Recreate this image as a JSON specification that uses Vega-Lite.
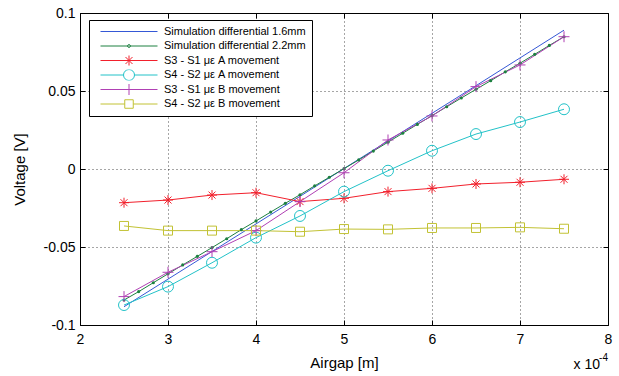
{
  "$schema": "https://vega.github.io/schema/vega-lite/v6.json",
  "width": 528,
  "height": 312,
  "autosize": "none",
  "padding": {"left": 80, "top": 13, "right": 11, "bottom": 51},
  "background": "white",
  "config": {
    "font": "Liberation Sans",
    "view": {"stroke": "black", "strokeWidth": 1},
    "axis": {
      "labelFont": "Liberation Sans",
      "titleFont": "Liberation Sans",
      "labelFontSize": 14,
      "titleFontSize": 15,
      "titleFontWeight": "normal",
      "labelColor": "black",
      "titleColor": "black",
      "tickColor": "black",
      "domain": false,
      "gridColor": "black",
      "gridDash": [1, 3],
      "gridOpacity": 0.7,
      "gridWidth": 1
    },
    "legend": {
      "orient": "none", "legendX": 9, "legendY": 7,
      "padding": 6, "strokeColor": "black", "fillColor": "white",
      "symbolSize": 100, "symbolStrokeWidth": 1, "symbolOpacity": 1,
      "labelFont": "Liberation Sans", "labelFontSize": 11, "labelColor": "black",
      "labelOffset": 58, "rowPadding": 2.5, "labelLimit": 300, "clipHeight": 11
    }
  },
  "data": {
    "values": [
      {"series": "Simulation differential 1.6mm", "airgap": 0.00025, "voltage": -0.0883},
      {"series": "Simulation differential 1.6mm", "airgap": 0.0003, "voltage": -0.0706},
      {"series": "Simulation differential 1.6mm", "airgap": 0.00035, "voltage": -0.0529},
      {"series": "Simulation differential 1.6mm", "airgap": 0.0004, "voltage": -0.0352},
      {"series": "Simulation differential 1.6mm", "airgap": 0.00045, "voltage": -0.0175},
      {"series": "Simulation differential 1.6mm", "airgap": 0.0005, "voltage": 0.0003},
      {"series": "Simulation differential 1.6mm", "airgap": 0.00055, "voltage": 0.018},
      {"series": "Simulation differential 1.6mm", "airgap": 0.0006, "voltage": 0.0357},
      {"series": "Simulation differential 1.6mm", "airgap": 0.00065, "voltage": 0.0534},
      {"series": "Simulation differential 1.6mm", "airgap": 0.0007, "voltage": 0.0712},
      {"series": "Simulation differential 1.6mm", "airgap": 0.00075, "voltage": 0.089},

      {"series": "Simulation differential 2.2mm", "airgap": 0.00025, "voltage": -0.084},
      {"series": "Simulation differential 2.2mm", "airgap": 0.0002667, "voltage": -0.0786},
      {"series": "Simulation differential 2.2mm", "airgap": 0.0002833, "voltage": -0.0729},
      {"series": "Simulation differential 2.2mm", "airgap": 0.0003, "voltage": -0.0672},
      {"series": "Simulation differential 2.2mm", "airgap": 0.0003167, "voltage": -0.0615},
      {"series": "Simulation differential 2.2mm", "airgap": 0.0003333, "voltage": -0.056},
      {"series": "Simulation differential 2.2mm", "airgap": 0.00035, "voltage": -0.0504},
      {"series": "Simulation differential 2.2mm", "airgap": 0.0003667, "voltage": -0.0447},
      {"series": "Simulation differential 2.2mm", "airgap": 0.0003833, "voltage": -0.0389},
      {"series": "Simulation differential 2.2mm", "airgap": 0.0004, "voltage": -0.0333},
      {"series": "Simulation differential 2.2mm", "airgap": 0.0004167, "voltage": -0.0276},
      {"series": "Simulation differential 2.2mm", "airgap": 0.0004333, "voltage": -0.022},
      {"series": "Simulation differential 2.2mm", "airgap": 0.00045, "voltage": -0.0165},
      {"series": "Simulation differential 2.2mm", "airgap": 0.0004667, "voltage": -0.0108},
      {"series": "Simulation differential 2.2mm", "airgap": 0.0004833, "voltage": -0.0053},
      {"series": "Simulation differential 2.2mm", "airgap": 0.0005, "voltage": 0.0002},
      {"series": "Simulation differential 2.2mm", "airgap": 0.0005167, "voltage": 0.0058},
      {"series": "Simulation differential 2.2mm", "airgap": 0.0005333, "voltage": 0.0115},
      {"series": "Simulation differential 2.2mm", "airgap": 0.00055, "voltage": 0.0172},
      {"series": "Simulation differential 2.2mm", "airgap": 0.0005667, "voltage": 0.0229},
      {"series": "Simulation differential 2.2mm", "airgap": 0.0005833, "voltage": 0.0286},
      {"series": "Simulation differential 2.2mm", "airgap": 0.0006, "voltage": 0.0342},
      {"series": "Simulation differential 2.2mm", "airgap": 0.0006167, "voltage": 0.0399},
      {"series": "Simulation differential 2.2mm", "airgap": 0.0006333, "voltage": 0.0455},
      {"series": "Simulation differential 2.2mm", "airgap": 0.00065, "voltage": 0.0511},
      {"series": "Simulation differential 2.2mm", "airgap": 0.0006667, "voltage": 0.0566},
      {"series": "Simulation differential 2.2mm", "airgap": 0.0006833, "voltage": 0.0623},
      {"series": "Simulation differential 2.2mm", "airgap": 0.0007, "voltage": 0.0678},
      {"series": "Simulation differential 2.2mm", "airgap": 0.0007167, "voltage": 0.0735},
      {"series": "Simulation differential 2.2mm", "airgap": 0.0007333, "voltage": 0.0792},
      {"series": "Simulation differential 2.2mm", "airgap": 0.00075, "voltage": 0.0848},

      {"series": "S3 - S1 με A movement", "airgap": 0.00025, "voltage": -0.0216},
      {"series": "S3 - S1 με A movement", "airgap": 0.0003, "voltage": -0.0199},
      {"series": "S3 - S1 με A movement", "airgap": 0.00035, "voltage": -0.0167},
      {"series": "S3 - S1 με A movement", "airgap": 0.0004, "voltage": -0.0152},
      {"series": "S3 - S1 με A movement", "airgap": 0.00045, "voltage": -0.0209},
      {"series": "S3 - S1 με A movement", "airgap": 0.0005, "voltage": -0.0188},
      {"series": "S3 - S1 με A movement", "airgap": 0.00055, "voltage": -0.0145},
      {"series": "S3 - S1 με A movement", "airgap": 0.0006, "voltage": -0.0124},
      {"series": "S3 - S1 με A movement", "airgap": 0.00065, "voltage": -0.0096},
      {"series": "S3 - S1 με A movement", "airgap": 0.0007, "voltage": -0.0085},
      {"series": "S3 - S1 με A movement", "airgap": 0.00075, "voltage": -0.0066},

      {"series": "S4 - S2 με A movement", "airgap": 0.00025, "voltage": -0.0872},
      {"series": "S4 - S2 με A movement", "airgap": 0.0003, "voltage": -0.0754},
      {"series": "S4 - S2 με A movement", "airgap": 0.00035, "voltage": -0.0601},
      {"series": "S4 - S2 με A movement", "airgap": 0.0004, "voltage": -0.044},
      {"series": "S4 - S2 με A movement", "airgap": 0.00045, "voltage": -0.0301},
      {"series": "S4 - S2 με A movement", "airgap": 0.0005, "voltage": -0.0145},
      {"series": "S4 - S2 με A movement", "airgap": 0.00055, "voltage": -0.0011},
      {"series": "S4 - S2 με A movement", "airgap": 0.0006, "voltage": 0.0117},
      {"series": "S4 - S2 με A movement", "airgap": 0.00065, "voltage": 0.0224},
      {"series": "S4 - S2 με A movement", "airgap": 0.0007, "voltage": 0.0301},
      {"series": "S4 - S2 με A movement", "airgap": 0.00075, "voltage": 0.0383},

      {"series": "S3 - S1 με B movement", "airgap": 0.00025, "voltage": -0.0818},
      {"series": "S3 - S1 με B movement", "airgap": 0.0003, "voltage": -0.0662},
      {"series": "S3 - S1 με B movement", "airgap": 0.00035, "voltage": -0.053},
      {"series": "S3 - S1 με B movement", "airgap": 0.0004, "voltage": -0.0395},
      {"series": "S3 - S1 με B movement", "airgap": 0.00045, "voltage": -0.0209},
      {"series": "S3 - S1 με B movement", "airgap": 0.0005, "voltage": -0.0024},
      {"series": "S3 - S1 με B movement", "airgap": 0.00055, "voltage": 0.0186},
      {"series": "S3 - S1 με B movement", "airgap": 0.0006, "voltage": 0.034},
      {"series": "S3 - S1 με B movement", "airgap": 0.00065, "voltage": 0.0528},
      {"series": "S3 - S1 με B movement", "airgap": 0.0007, "voltage": 0.0667},
      {"series": "S3 - S1 με B movement", "airgap": 0.00075, "voltage": 0.0848},

      {"series": "S4 - S2 με B movement", "airgap": 0.00025, "voltage": -0.0365},
      {"series": "S4 - S2 με B movement", "airgap": 0.0003, "voltage": -0.0395},
      {"series": "S4 - S2 με B movement", "airgap": 0.00035, "voltage": -0.0395},
      {"series": "S4 - S2 με B movement", "airgap": 0.0004, "voltage": -0.0395},
      {"series": "S4 - S2 με B movement", "airgap": 0.00045, "voltage": -0.0402},
      {"series": "S4 - S2 με B movement", "airgap": 0.0005, "voltage": -0.0385},
      {"series": "S4 - S2 με B movement", "airgap": 0.00055, "voltage": -0.0387},
      {"series": "S4 - S2 με B movement", "airgap": 0.0006, "voltage": -0.0378},
      {"series": "S4 - S2 με B movement", "airgap": 0.00065, "voltage": -0.0378},
      {"series": "S4 - S2 με B movement", "airgap": 0.0007, "voltage": -0.0374},
      {"series": "S4 - S2 με B movement", "airgap": 0.00075, "voltage": -0.0383}
    ]
  },
  "resolve": {"axis": {"x": "independent", "y": "independent"}},
  "layer": [
    {
      "mark": {"type": "line", "strokeWidth": 1},
      "encoding": {
        "x": {
          "field": "airgap", "type": "quantitative",
          "scale": {"domain": [0.0002, 0.0008], "nice": false, "zero": false},
          "axis": {
            "title": "Airgap [m]",
            "values": [0.0002, 0.0003, 0.0004, 0.0005, 0.0006, 0.0007, 0.0008],
            "labelExpr": "format(datum.value * 10000, 'd')",
            "grid": true, "tickSize": -5, "labelPadding": 12, "titlePadding": 9,
            "labelFlush": false, "labelOverlap": false
          }
        },
        "y": {
          "field": "voltage", "type": "quantitative",
          "scale": {"domain": [-0.1, 0.1], "nice": false, "zero": false},
          "axis": {
            "title": "Voltage [V]",
            "values": [-0.1, -0.05, 0, 0.05, 0.1],
            "labelExpr": "replace(format(datum.value, '.2~f'), '\u2212', '-')",
            "grid": true, "tickSize": -5, "labelPadding": 10, "titlePadding": 16,
            "labelFlush": false, "labelOverlap": false
          }
        },
        "stroke": {
          "field": "series", "type": "nominal", "legend": null,
          "scale": {
            "domain": ["S4 - S2 με B movement", "S3 - S1 με B movement", "S4 - S2 με A movement", "S3 - S1 με A movement", "Simulation differential 2.2mm", "Simulation differential 1.6mm"],
            "range": ["#c2c234", "#b040b4", "#22c2c8", "#f2202c", "#1c8040", "#3558d6"]
          }
        }
      }
    },
    {
      "transform": [{"filter": "datum.series == 'Simulation differential 2.2mm'"}],
      "mark": {"type": "point", "shape": "circle", "filled": true, "size": 10, "opacity": 1, "color": "#1c8040"},
      "encoding": {
        "x": {"field": "airgap", "type": "quantitative", "axis": null},
        "y": {"field": "voltage", "type": "quantitative", "axis": null}
      }
    },
    {
      "transform": [{"filter": "datum.series == 'S3 - S1 με A movement'"}],
      "mark": {"type": "point", "shape": "M0,-1V1M-1,0H1M-0.7,-0.7L0.7,0.7M-0.7,0.7L0.7,-0.7", "filled": false, "size": 100, "opacity": 1, "strokeWidth": 1, "color": "#f2202c"},
      "encoding": {
        "x": {"field": "airgap", "type": "quantitative", "axis": null},
        "y": {"field": "voltage", "type": "quantitative", "axis": null}
      }
    },
    {
      "transform": [{"filter": "datum.series == 'S4 - S2 με A movement'"}],
      "mark": {"type": "point", "shape": "circle", "filled": false, "size": 120, "opacity": 1, "strokeWidth": 1, "color": "#22c2c8"},
      "encoding": {
        "x": {"field": "airgap", "type": "quantitative", "axis": null},
        "y": {"field": "voltage", "type": "quantitative", "axis": null}
      }
    },
    {
      "transform": [{"filter": "datum.series == 'S3 - S1 με B movement'"}],
      "mark": {"type": "point", "shape": "M0,-1V1M-1,0H1", "filled": false, "size": 121, "opacity": 1, "strokeWidth": 1, "color": "#b040b4"},
      "encoding": {
        "x": {"field": "airgap", "type": "quantitative", "axis": null},
        "y": {"field": "voltage", "type": "quantitative", "axis": null}
      }
    },
    {
      "transform": [{"filter": "datum.series == 'S4 - S2 με B movement'"}],
      "mark": {"type": "point", "shape": "square", "filled": false, "size": 81, "opacity": 1, "strokeWidth": 1, "color": "#c2c234"},
      "encoding": {
        "x": {"field": "airgap", "type": "quantitative", "axis": null},
        "y": {"field": "voltage", "type": "quantitative", "axis": null}
      }
    },
    {
      "transform": [{"filter": "datum.series == 'none'"}],
      "mark": {"type": "point", "filled": false, "opacity": 1, "strokeWidth": 1},
      "encoding": {
        "x": {
          "field": "airgap", "type": "quantitative",
          "axis": {
            "orient": "top", "title": null, "labels": false, "grid": false,
            "values": [0.0002, 0.0003, 0.0004, 0.0005, 0.0006, 0.0007, 0.0008],
            "tickSize": -5
          }
        },
        "y": {
          "field": "voltage", "type": "quantitative",
          "axis": {
            "orient": "right", "title": null, "labels": false, "grid": false,
            "values": [-0.1, -0.05, 0, 0.05, 0.1],
            "tickSize": -5
          }
        },
        "color": {
          "field": "series", "type": "nominal", "title": null,
          "scale": {
            "domain": ["Simulation differential 1.6mm", "Simulation differential 2.2mm", "S3 - S1 με A movement", "S4 - S2 με A movement", "S3 - S1 με B movement", "S4 - S2 με B movement"],
            "range": ["#3558d6", "#1c8040", "#f2202c", "#22c2c8", "#b040b4", "#c2c234"]
          }
        },
        "shape": {
          "field": "series", "type": "nominal", "title": null,
          "scale": {
            "domain": ["Simulation differential 1.6mm", "Simulation differential 2.2mm", "S3 - S1 με A movement", "S4 - S2 με A movement", "S3 - S1 με B movement", "S4 - S2 με B movement"],
            "range": [
              "M0,0H11.4",
              "M0,0H11.4M5.4,0A0.3,0.3,0,1,0,6,0A0.3,0.3,0,1,0,5.4,0Z",
              "M0,0H11.4M5.7,-1V1M4.7,0H6.7M5,-0.7L6.4,0.7M5,0.7L6.4,-0.7",
              "M0,0H4.6M6.8,0H11.4M4.6,0A1.1,1.1,0,1,0,6.8,0A1.1,1.1,0,1,0,4.6,0",
              "M0,0H11.4M5.7,-1.1V1.1",
              "M0,0H4.85M6.55,0H11.4M4.85,-0.85H6.55V0.85H4.85Z"
            ]
          }
        }
      }
    },
    {
      "data": {"values": [{"label": "x 10"}]},
      "mark": {"type": "text", "align": "right", "baseline": "alphabetic", "dx": -8, "dy": 44, "fontSize": 14, "color": "black"},
      "encoding": {
        "text": {"field": "label"},
        "x": {"datum": 0.0008, "type": "quantitative", "axis": null},
        "y": {"datum": -0.1, "type": "quantitative", "axis": null}
      }
    },
    {
      "data": {"values": [{"label": "-4"}]},
      "mark": {"type": "text", "align": "right", "baseline": "alphabetic", "dx": 0, "dy": 36, "fontSize": 10, "color": "black"},
      "encoding": {
        "text": {"field": "label"},
        "x": {"datum": 0.0008, "type": "quantitative", "axis": null},
        "y": {"datum": -0.1, "type": "quantitative", "axis": null}
      }
    }
  ]
}
